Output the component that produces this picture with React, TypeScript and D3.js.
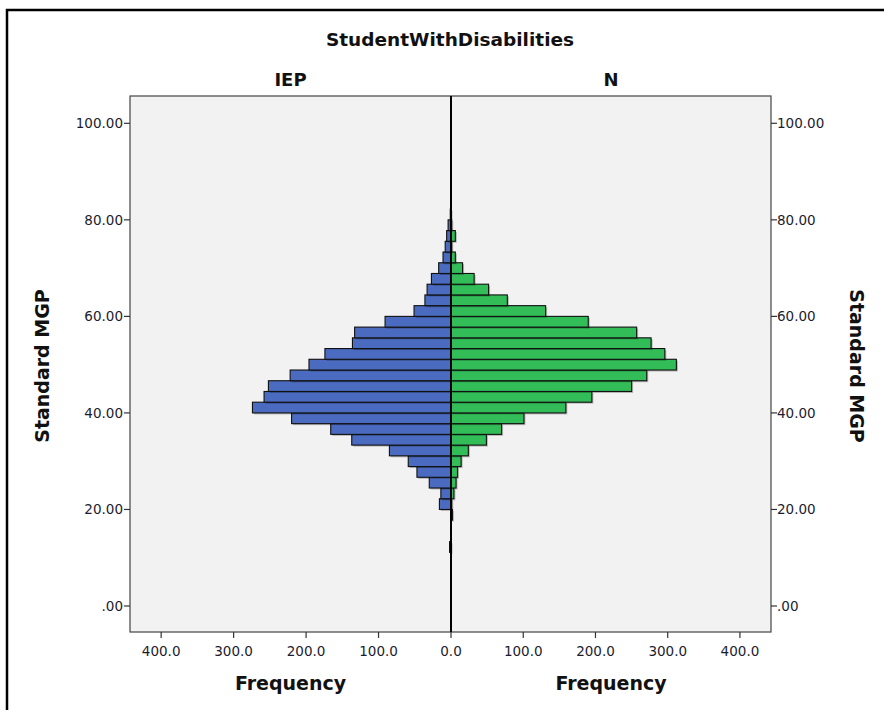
import React from "react";
import * as d3 from "d3";

// bin k covers [k*binWidth, (k+1)*binWidth]
const binWidth = 20 / 9;
const binIndex = d3.range(0, 37);
const iepCounts = [
  0, 0, 0, 0, 0, 2, 0, 0, 0, 16, 14, 30, 47, 59, 85, 137, 166, 220, 274, 258,
  252, 222, 196, 174, 136, 133, 91, 51, 36, 33, 27, 17, 11, 8, 6, 4, 1,
];
const nCounts = [
  0, 0, 0, 0, 0, 0, 0, 0, 2, 1, 4, 7, 9, 14, 24, 49, 70, 101, 159, 195, 250,
  271, 312, 296, 277, 257, 190, 131, 78, 52, 32, 16, 6, 1, 6, 1, 0,
];
const panels = ["IEP", "N"];
const yTicks = [0, 20, 40, 60, 80, 100];
const leftXTicks = [400, 300, 200, 100, 0];
const rightXTicks = [100, 200, 300, 400];

const W = 884;
const H = 710;
const plotL = 130;
const plotR = 771;
const plotT = 96;
const plotB = 632;
const cx = 451;

const BLUE = "#4a6bbf";
const GREEN = "#33bd58";
const TXT = "#1c1c30";
const FONT = "'DejaVu Sans', sans-serif";

export default function App() {
  const y = d3.scaleLinear().domain([0, 100]).range([606, 123.3]);
  const xL = d3.scaleLinear().domain([0, 443]).range([cx, plotL]);
  const xR = d3.scaleLinear().domain([0, 443]).range([cx, plotR]);

  const fmtY = (v: number) => (v === 0 ? ".00" : d3.format(".2f")(v));
  const fmtX = d3.format(".1f");

  const bars = (counts: number[], x: d3.ScaleLinear<number, number>, color: string, side: number) =>
    binIndex.map((k) => {
      const v = counts[k];
      if (!v) return null;
      const y0 = y((k + 1) * binWidth);
      const y1 = y(k * binWidth);
      const xa = Math.min(x(0), x(v));
      const w = Math.abs(x(v) - x(0));
      return (
        <g key={`${side}-${k}`}>
          <rect x={xa + 1.5} y={y0 + 1.5} width={w} height={y1 - y0} fill="#000" opacity={0.25} />
          <rect x={xa} y={y0} width={w} height={y1 - y0} fill={color} stroke="#111" strokeWidth={1.1} />
        </g>
      );
    });

  return (
    <svg width={W} height={H} style={{ position: "absolute", left: 0, top: 0, background: "#fff" }} fontFamily={FONT}>
      <rect x={0} y={0} width={W} height={H} fill="#fff" />
      {/* outer frame */}
      <path d={`M7,${H} V10 H${W}`} fill="none" stroke="#000" strokeWidth={2.5} />

      <text x={450} y={46} textAnchor="middle" fontSize={18.5} fontWeight="bold" fill="#111">
        StudentWithDisabilities
      </text>
      <text x={(plotL + cx) / 2} y={86} textAnchor="middle" fontSize={18} fontWeight="bold" fill="#111">
        {panels[0]}
      </text>
      <text x={(cx + plotR) / 2} y={86} textAnchor="middle" fontSize={18} fontWeight="bold" fill="#111">
        {panels[1]}
      </text>

      {/* plot area */}
      <rect x={plotL} y={plotT} width={plotR - plotL} height={plotB - plotT} fill="#f2f2f2" />

      {bars(iepCounts, xL, BLUE, 0)}
      {bars(nCounts, xR, GREEN, 1)}

      <rect x={plotL} y={plotT} width={plotR - plotL} height={plotB - plotT} fill="none" stroke="#444" strokeWidth={1.2} />
      <line x1={cx} x2={cx} y1={plotT} y2={plotB} stroke="#000" strokeWidth={2} />

      {/* y axes */}
      {yTicks.map((t) => (
        <g key={`yl${t}`}>
          <line x1={plotL - 6} x2={plotL} y1={y(t)} y2={y(t)} stroke="#333" strokeWidth={1.2} />
          <text x={plotL - 7} y={y(t)} dy="0.35em" textAnchor="end" fontSize={13.5} fill={TXT}>
            {fmtY(t)}
          </text>
          <line x1={plotR} x2={plotR + 6} y1={y(t)} y2={y(t)} stroke="#333" strokeWidth={1.2} />
          <text x={plotR + 6} y={y(t)} dy="0.35em" textAnchor="start" fontSize={13.5} fill={TXT}>
            {fmtY(t)}
          </text>
        </g>
      ))}

      {/* x axes */}
      {leftXTicks.map((t) => (
        <g key={`xl${t}`}>
          <line x1={xL(t)} x2={xL(t)} y1={plotB} y2={plotB + 6} stroke="#333" strokeWidth={1.2} />
          <text x={xL(t)} y={plotB + 24} textAnchor="middle" fontSize={13.5} fill={TXT}>
            {fmtX(t)}
          </text>
        </g>
      ))}
      {rightXTicks.map((t) => (
        <g key={`xr${t}`}>
          <line x1={xR(t)} x2={xR(t)} y1={plotB} y2={plotB + 6} stroke="#333" strokeWidth={1.2} />
          <text x={xR(t)} y={plotB + 24} textAnchor="middle" fontSize={13.5} fill={TXT}>
            {fmtX(t)}
          </text>
        </g>
      ))}

      <text x={(plotL + cx) / 2} y={690} textAnchor="middle" fontSize={19} fontWeight="bold" fill="#111">
        Frequency
      </text>
      <text x={(cx + plotR) / 2} y={690} textAnchor="middle" fontSize={19} fontWeight="bold" fill="#111">
        Frequency
      </text>

      <text transform={`translate(49,${366}) rotate(-90)`} textAnchor="middle" fontSize={19} fontWeight="bold" fill="#111">
        Standard MGP
      </text>
      <text transform={`translate(850,${366}) rotate(90)`} textAnchor="middle" fontSize={19} fontWeight="bold" fill="#111">
        Standard MGP
      </text>
    </svg>
  );
}
